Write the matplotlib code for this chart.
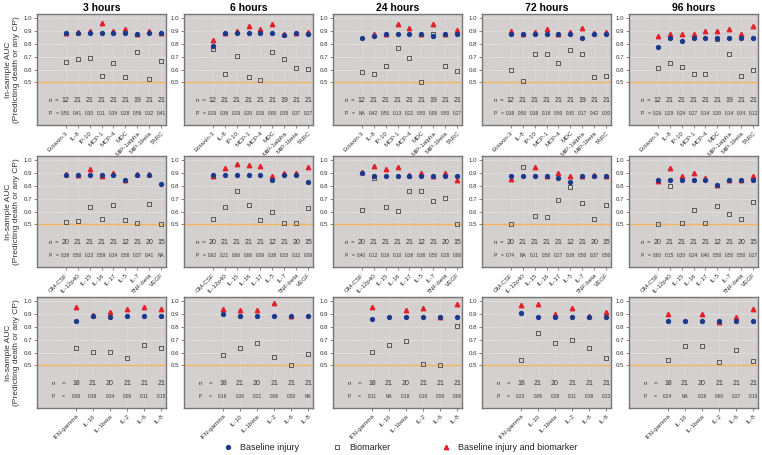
import numpy as np
import matplotlib
matplotlib.use('Agg')
import matplotlib.pyplot as plt
from matplotlib.lines import Line2D

plt.rcParams['font.family'] = ['Liberation Sans', 'DejaVu Sans']

nan = np.nan

times = ['3 hours', '6 hours', '24 hours', '72 hours', '96 hours']

# ---- row 1: chemokines
cats_a = ['Eotaxin-3', 'IL-8', 'IP-10', 'MCP-1', 'MCP-4', 'MDC', 'MIP-1alpha', 'MIP-1beta', 'TARC']
n_a = [12, 21, 21, 21, 21, 21, 19, 21, 21]
base_a = [
    [0.885, 0.885, 0.885, 0.885, 0.885, 0.885, 0.875, 0.885, 0.885],
    [0.785, 0.885, 0.885, 0.885, 0.885, 0.885, 0.87, 0.885, 0.875],
    [0.85, 0.865, 0.875, 0.875, 0.875, 0.875, 0.86, 0.875, 0.875],
    [0.875, 0.875, 0.875, 0.875, 0.875, 0.875, 0.85, 0.875, 0.875],
    [0.78, 0.85, 0.825, 0.85, 0.85, 0.85, 0.85, 0.85, 0.85]]
bio_a = [
    [0.66, 0.685, 0.695, 0.55, 0.655, 0.54, 0.74, 0.53, 0.665],
    [0.765, 0.57, 0.705, 0.545, 0.52, 0.735, 0.68, 0.615, 0.605],
    [0.585, 0.565, 0.625, 0.77, 0.695, 0.50, 0.875, 0.625, 0.59],
    [0.60, 0.51, 0.72, 0.72, 0.655, 0.75, 0.725, 0.54, 0.55],
    [0.61, 0.65, 0.62, 0.565, 0.565, 0.84, 0.72, 0.55, 0.60]]
comb_a = [
    [0.885, 0.895, 0.905, 0.965, 0.905, 0.915, 0.875, 0.905, 0.89],
    [0.835, 0.89, 0.90, 0.94, 0.92, 0.955, 0.88, 0.89, 0.895],
    [nan, 0.875, 0.875, 0.955, 0.925, 0.875, 0.96, 0.875, 0.91],
    [0.90, 0.875, 0.895, 0.92, 0.875, 0.895, 0.925, 0.885, 0.895],
    [0.86, 0.875, 0.875, 0.875, 0.90, 0.90, 0.92, 0.875, 0.94]]
p_a = [
    ['0.50', '0.41', '0.30', '0.11', '0.34', '0.28', '0.58', '0.32', '0.41'],
    ['0.29', '0.38', '0.29', '0.20', '0.26', '0.09', '0.35', '0.37', '0.27'],
    ['NA', '0.42', '0.50', '0.13', '0.22', '0.50', '0.09', '0.50', '0.27'],
    ['0.38', '0.50', '0.38', '0.18', '0.50', '0.30', '0.17', '0.42', '0.30'],
    ['0.26', '0.29', '0.24', '0.27', '0.14', '0.20', '0.14', '0.34', '0.12']]

# ---- row 2: growth factors / interleukins
cats_b = ['GM-CSF', 'IL-12p40', 'IL-15', 'IL-16', 'IL-17', 'IL-5', 'IL-7', 'TNF-beta', 'VEGF']
n_b = [20, 21, 21, 21, 21, 12, 21, 20, 15]
base_b = [
    [0.89, 0.885, 0.885, 0.885, 0.885, 0.845, 0.885, 0.885, 0.82],
    [0.885, 0.885, 0.885, 0.885, 0.885, 0.845, 0.885, 0.885, 0.835],
    [0.90, 0.875, 0.875, 0.875, 0.875, 0.88, 0.875, 0.875, 0.875],
    [0.875, 0.875, 0.875, 0.875, 0.865, 0.835, 0.875, 0.875, 0.875],
    [0.85, 0.85, 0.85, 0.85, 0.845, 0.81, 0.85, 0.85, 0.85]]
bio_b = [
    [0.52, 0.53, 0.635, 0.54, 0.655, 0.535, 0.51, 0.66, 0.50],
    [0.54, 0.635, 0.76, 0.65, 0.535, 0.595, 0.515, 0.515, 0.63],
    [0.615, 0.865, 0.635, 0.605, 0.76, 0.76, 0.68, 0.705, 0.50],
    [0.50, 0.95, 0.565, 0.555, 0.695, 0.795, 0.665, 0.54, 0.655],
    [0.50, 0.80, 0.51, 0.61, 0.515, 0.645, 0.585, 0.54, 0.675]]
comb_b = [
    [0.895, 0.885, 0.935, 0.875, 0.905, 0.845, 0.895, 0.895, nan],
    [0.875, 0.94, 0.975, 0.965, 0.955, 0.875, 0.90, 0.905, 0.95],
    [0.91, 0.96, 0.935, 0.95, 0.885, 0.905, 0.875, 0.90, 0.845],
    [0.855, nan, 0.95, 0.875, 0.90, 0.88, 0.875, 0.89, 0.875],
    [0.84, 0.94, 0.875, 0.90, 0.86, 0.81, 0.85, 0.845, 0.875]]
p_b = [
    ['0.38', '0.50', '0.23', '0.59', '0.34', '0.58', '0.37', '0.41', 'NA'],
    ['0.62', '0.21', '0.06', '0.06', '0.09', '0.38', '0.33', '0.32', '0.09'],
    ['0.40', '0.12', '0.16', '0.10', '0.38', '0.38', '0.50', '0.28', '0.80'],
    ['0.74', 'NA', '0.11', '0.50', '0.27', '0.38', '0.50', '0.37', '0.50'],
    ['0.60', '0.15', '0.30', '0.24', '0.40', '0.50', '0.50', '0.50', '0.27']]

# ---- row 3: pro-inflammatory
cats_c = ['IFN-gamma', 'IL-10', 'IL-1beta', 'IL-2', 'IL-6', 'IL-8']
n_c = [18, 21, 20, 21, 21, 21]
base_c = [
    [0.85, 0.885, 0.88, 0.885, 0.885, 0.885],
    [0.905, 0.885, 0.885, 0.885, 0.885, 0.885],
    [0.865, 0.875, 0.875, 0.875, 0.875, 0.875],
    [0.91, 0.875, 0.875, 0.875, 0.875, 0.875],
    [0.845, 0.85, 0.85, 0.85, 0.85, 0.85]]
bio_c = [
    [0.635, 0.605, 0.605, 0.555, 0.66, 0.64],
    [0.58, 0.64, 0.675, 0.57, 0.50, 0.59],
    [0.605, 0.66, 0.69, 0.51, 0.50, 0.81],
    [0.545, 0.75, 0.675, 0.70, 0.635, 0.56],
    [0.545, 0.65, 0.65, 0.525, 0.62, 0.535]]
comb_c = [
    [0.96, 0.895, 0.92, 0.945, 0.96, 0.945],
    [0.945, 0.93, 0.93, 0.985, 0.885, nan],
    [0.955, nan, 0.935, 0.95, 0.875, 0.98],
    [0.97, 0.98, 0.905, 0.95, 0.885, 0.92],
    [0.90, nan, 0.90, 0.84, 0.875, 0.94]]
p_c = [
    ['0.09', '0.38', '0.24', '0.09', '0.11', '0.15'],
    ['0.19', '0.20', '0.21', '0.06', '0.50', 'NA'],
    ['0.11', 'NA', '0.18', '0.10', '0.50', '0.06'],
    ['0.23', '0.05', '0.28', '0.11', '0.38', '0.23'],
    ['0.24', 'NA', '0.28', '0.60', '0.27', '0.10']]

groups = [
    (cats_a, n_a, base_a, bio_a, comb_a, p_a),
    (cats_b, n_b, base_b, bio_b, comb_b, p_b),
    (cats_c, n_c, base_c, bio_c, comb_c, p_c),
]

BG = '#d4d0d0'
BLUE = '#1c3a8c'
RED = '#e3202a'
ORANGE = '#f6b358'
TXT = '#333333'

W, H = 762, 455
fig = plt.figure(figsize=(W / 100, H / 100), dpi=100)

# panel boxes in pixels
col_left = [37, 184, 333, 482, 629]
row_top = [14, 156, 297]
pw, ph = 129, 111

for r, (cats, n, base, bio, comb, pv) in enumerate(groups):
    k = len(cats)
    x = np.arange(1, k + 1)
    for c in range(5):
        ax = fig.add_axes([col_left[c] / W, 1 - (row_top[r] + ph) / H, pw / W, ph / H])
        ax.set_facecolor(BG)
        pad = 0.04 * (k + 1)
        ax.set_xlim(-1 - pad, k + pad)
        ax.set_ylim(0.168, 1.035)

        # dotted white grid
        for yv in np.arange(0.5, 1.01, 0.1):
            ax.axhline(yv, color='white', lw=0.5, ls=':', zorder=1)
        for xv in x:
            ax.axvline(xv, color='white', lw=0.4, ls=':', alpha=0.6, zorder=1)
        ax.axhline(0.5, color=ORANGE, lw=1.0, zorder=2)

        ax.plot(x, comb[c], ls='none', marker='^', ms=3.2, color=RED, zorder=3)
        ax.plot(x, bio[c], ls='none', marker='s', ms=3.2, mfc='none', mec='#444444',
                mew=0.6, zorder=4)
        ax.plot(x, base[c], ls='none', marker='o', ms=2.8, color=BLUE, zorder=5)

        # sample size and p value rows
        ax.text(-0.3, 0.36, 'n', fontsize=4.5, ha='center', va='center', color=TXT)
        ax.text(0.25, 0.36, '=', fontsize=4.5, ha='center', va='center', color=TXT)
        ax.text(-0.3, 0.255, 'P', fontsize=3.6, ha='center', va='center', color=TXT)
        ax.text(0.25, 0.255, '=', fontsize=3.6, ha='center', va='center', color=TXT)
        for i in range(k):
            ax.text(x[i], 0.36, str(n[i]), fontsize=5, ha='center', va='center', color=TXT)
            ax.text(x[i], 0.255, pv[c][i], fontsize=3.4, ha='center', va='center', color=TXT)

        ax.set_yticks([0.5, 0.6, 0.7, 0.8, 0.9, 1.0])
        ax.set_yticklabels(['0.5', '0.6', '0.7', '0.8', '0.9', '1.0'])
        ax.set_xticks(x)
        ax.set_xticklabels(cats, rotation=45, ha='right', rotation_mode='anchor')
        ax.tick_params(axis='y', labelsize=4.4, length=2, width=0.5, pad=1.5, colors='#555555',
                       labelcolor=TXT)
        ax.tick_params(axis='x', labelsize=4.5, length=2.5, width=0.5, pad=1.5, colors='#555555',
                       labelcolor=TXT)
        for s in ax.spines.values():
            s.set_color('#767676')
            s.set_linewidth(1.0)

        if r == 0:
            ax.set_title(times[c], fontsize=7.5, fontweight='bold', pad=2.5)

    # shared y label on the left for each row
    fig.text(12.5 / W, 1 - (row_top[r] + ph / 2) / H, 'In-sample AUC\n(Predicting death or any CP)',
             rotation=90, fontsize=6, color=TXT, ha='center', va='center', linespacing=1.15)

# legend along the bottom
leg_y = 1 - 447 / H
legend_items = [
    (228, 'Baseline injury', dict(marker='o', ms=2.8, color=BLUE)),
    (337, 'Biomarker', dict(marker='s', ms=3.2, mfc='none', mec='#444444', mew=0.6)),
    (446, 'Baseline injury and biomarker', dict(marker='^', ms=3.2, color=RED)),
]
for mx, lab, style in legend_items:
    fig.add_artist(Line2D([mx / W], [leg_y], transform=fig.transFigure, ls='none', **style))
    fig.text((mx + 12) / W, leg_y, lab, fontsize=6.5, color='#222222', ha='left', va='center')

fig.savefig('out.png', dpi=100)
